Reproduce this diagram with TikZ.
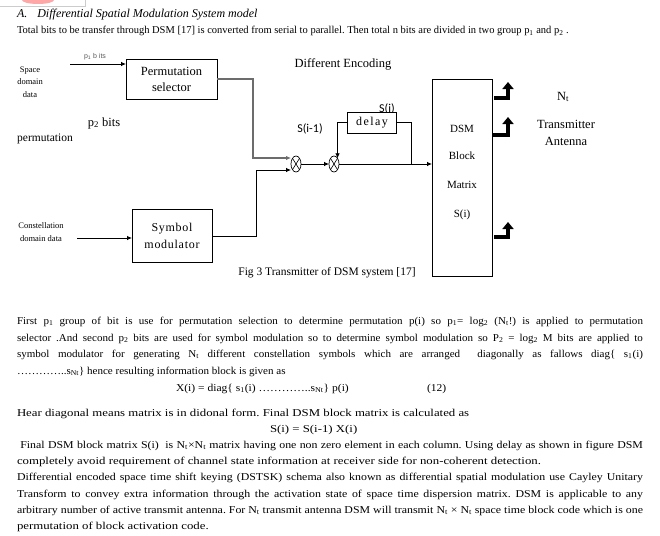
\documentclass[tikz,border=0pt]{standalone}
\usepackage{fontspec}
\setmainfont{Liberation Serif}
\newfontfamily\calib{Carlito}
\newfontfamily\arialsm{Liberation Sans}
\newfontfamily\spaced[LetterSpace=6]{Liberation Serif}
\newfontfamily\spacedmore[LetterSpace=12]{Liberation Serif}
\newfontfamily\bodyA[FakeStretch=1.05]{Liberation Serif}
\newfontfamily\bodyB[FakeStretch=1.1]{Liberation Serif}
\newfontfamily\bodyC[FakeStretch=1.22]{Liberation Serif}
\newfontfamily\bodyD[FakeStretch=1.13]{Liberation Serif}
\usetikzlibrary{positioning,shapes.geometric,arrows.meta}

% one justified line of the body text
\newcommand{\jline}[1]{\makebox[626pt][s]{#1}}

\begin{document}
\frenchspacing
\begin{tikzpicture}[x=1pt,y=1pt]
    \tikzstyle{every node}=[inner sep=0,outer sep=0]
    \tikzstyle{txt}=[anchor=base west,font=\fontsize{10.5}{12}\selectfont]
    \tikzstyle{txta}=[txt,font=\fontsize{10.5}{12}\bodyA]
    \tikzstyle{txtb}=[txt,font=\fontsize{10.5}{12}\bodyB]
    \tikzstyle{txtc}=[txt,font=\fontsize{10.5}{12}\bodyC]
    \tikzstyle{txtd}=[txt,font=\fontsize{10.5}{12}\bodyD]
    \tikzstyle{lbl}=[font=\fontsize{12.5}{16.5}\selectfont,align=center]
    \tikzstyle{small}=[font=\fontsize{8.5}{12.7}\selectfont,align=center]
    \tikzstyle{blk}=[draw,fill=white,line width=0.8,align=center,font=\fontsize{12.5}{16}\selectfont]
    \tikzstyle{mult}=[draw,ellipse,minimum width=10,minimum height=16,line width=0.7,
        path picture={\draw[line width=0.6] (path picture bounding box.south west) -- (path picture bounding box.north east)
            (path picture bounding box.north west) -- (path picture bounding box.south east);}]
    \tikzstyle{wire}=[line width=0.8,-{Latex[length=5pt,width=4.5pt]}]
    \tikzstyle{ant}=[line width=4,line join=miter,-{Triangle[length=7pt,width=11pt]}]
    \useasboundingbox (0,0) rectangle (660,-535);
    % scrap of the page above
    \fill[red!35!white] (22,0) arc[start angle=180,end angle=360,x radius=16,y radius=4] -- cycle;
    \draw[gray!40,line width=0.5] (0,-6) -- (85,-6) -- (85,0);
    {
        % heading and first line
        \node[txt,font=\fontsize{12}{12}\itshape] (head) at (17,-18) {A.\hspace{10pt}Differential Spatial Modulation System model};
        \node[txt] (intro) at (17,-34) {Total bits to be transfer through DSM [17] is converted from serial to parallel. Then total n bits are divided in two group p\textsubscript{1} and p\textsubscript{2} .};

        % blocks
        \node[blk,minimum width=91,minimum height=40] (perm) at (171.5,-79) {Permutation\\selector};
        \node[blk,minimum width=80,minimum height=53,font=\fontsize{12}{16.5}\spaced] (symb) at (172,-236) {Symbol\\modulator};
        \node[font=\calib\fontsize{12}{14}\selectfont] (si) at (387,-109) {S(i)};
        \node[blk,minimum width=49,minimum height=21,font=\fontsize{12}{16}\spacedmore] (delay) at (372,-122.5) {delay};
        \node[blk,minimum width=60,minimum height=197] (dsm) at (462,-177.5) {};
        \node[lbl,font=\fontsize{11}{14}\selectfont] (dsm1) at (462,-129) {DSM};
        \node[lbl,font=\fontsize{11}{14}\selectfont] (dsm2) at (462,-156) {Block};
        \node[lbl,font=\fontsize{11}{14}\selectfont] (dsm3) at (462,-185) {Matrix};
        \node[lbl,font=\fontsize{11}{14}\selectfont] (dsm4) at (462,-215) {S(i)};
        \node[mult] (m1) at (296,-164) {};
        \node[mult] (m2) at (334,-164) {};

        % labels
        \node[small] (space) at (30,-82) {Space\\domain\\data};
        \node[small] (const) at (41,-232) {Constellation\\domain data};
        \node[font=\arialsm\fontsize{7}{8}\selectfont,text=gray!70!black] (pbits) at (95,-57) {p\textsubscript{1} b its};
        \node[lbl] (p2) at (104,-123) {p\textsubscript{2} bits};
        \node[lbl,font=\fontsize{11.5}{14}\selectfont] (permw) at (45,-139) {permutation};
        \node[lbl] (enc) at (343,-64) {Different Encoding};
        \node[font=\calib\fontsize{12}{14}\selectfont] (sprev) at (310,-129) {S(i-1)};
        \node[lbl] (nt) at (563,-97) {N\textsubscript{t}};
        \node[lbl] (tx) at (566,-133) {Transmitter\\Antenna};
        \node[lbl,font=\fontsize{11.5}{14}\selectfont] (cap) at (327,-273) {Fig 3 Transmitter of DSM system [17]};

        % connectors
        \coordinate (spin) at (70,-64);
        \coordinate (csin) at (77,-238);
        \draw[wire] (spin) -- (perm.west |- spin);
        \draw[wire] (csin) -- (symb.west |- csin);
        \draw[wire,draw=gray!85!black,line width=1.1] (perm.east) -- ++(36,0) |- ([yshift=6]m1.west);
        \draw[wire] (symb.east) -- ++(44,0) |- ([yshift=-6]m1.west);
        \draw[wire] (m1.east) -- (m2.west);
        \draw[wire] (m2.east) -- (m2.east -| dsm.west);
        \draw[wire] (delay.west) -| (m2.north east);
        \draw[line width=0.8] (delay.east) -- ++(15,0) -- ++(0,-41.5);

        % antennas
        \coordinate (a1) at (494,-98);
        \coordinate (a2) at (493,-135);
        \coordinate (a3) at (494,-237);
        \draw[ant] (a1) -- ++(14,0) -- ++(0,16);
        \draw[ant] (a2) -- ++(15,0) -- ++(0,18);
        \draw[ant] (a3) -- ++(14,0) -- ++(0,15);

        % body text
        \node[txta] (l1) at (17,-324) {\jline{First p\textsubscript{1} group of bit is use for permutation selection to determine permutation p(i) so p\textsubscript{1}= log\textsubscript{2} (N\textsubscript{t}!) is applied to permutation}};
        \node[txta] (l2) at (17,-341) {\jline{selector .And second p\textsubscript{2} bits are used for symbol modulation so to determine symbol modulation so P\textsubscript{2} = log\textsubscript{2} M bits are applied to}};
        \node[txta] (l3) at (17,-357) {\jline{symbol modulator for generating N\textsubscript{t} different constellation symbols which are arranged\ \ diagonally as fallows diag\{ s\textsubscript{1}(i)}};
        \node[txta] (l4) at (17,-374) {…………..s\textsubscript{Nt}\} hence resulting information block is given as};
        \node[txtb] (eq1) at (176,-391) {X(i) = diag\{ s\textsubscript{1}(i) …………..s\textsubscript{Nt}\} p(i)};
        \node[txtb] (eqn) at (427,-391) {(12)};
        \node[txtc] (l5) at (17,-416) {Hear diagonal means matrix is in didonal form. Final DSM block matrix is calculated as};
        \node[txtc] (eq2) at (270,-432) {S(i) = S(i-1) X(i)};
        \node[txtd] (l6) at (17,-448) {\jline{\ Final DSM block matrix S(i)\ \ is N\textsubscript{t}×N\textsubscript{t} matrix having one non zero element in each column. Using delay as shown in figure DSM}};
        \node[txtc] (l7) at (17,-464) {completely avoid requirement of channel state information at receiver side for non-coherent detection.};
        \node[txtd] (l8) at (17,-480) {\jline{Differential encoded space time shift keying (DSTSK) schema also known as differential spatial modulation use Cayley Unitary}};
        \node[txtd] (l9) at (17,-497) {\jline{Transform to convey extra information through the activation state of space time dispersion matrix. DSM is applicable to any}};
        \node[txtd] (l10) at (17,-513) {\jline{arbitrary number of active transmit antenna. For N\textsubscript{t} transmit antenna DSM will transmit N\textsubscript{t} × N\textsubscript{t} space time block code which is one}};
        \node[txtc] (l11) at (17,-529) {permutation of block activation code.};
    }
\end{tikzpicture}
\end{document}
